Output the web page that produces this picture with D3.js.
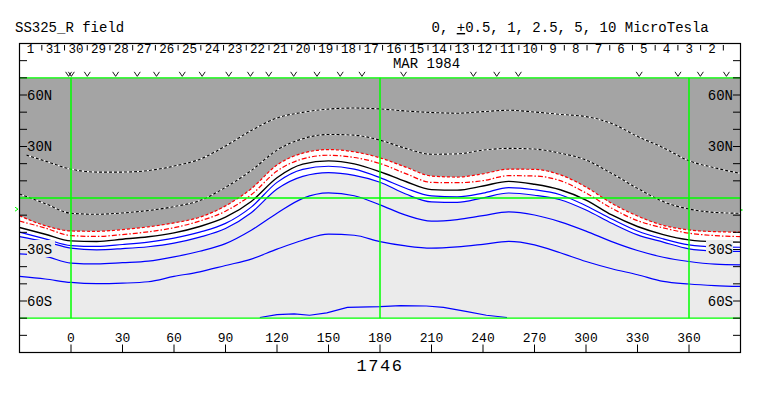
<!DOCTYPE html>
<html><head><meta charset="utf-8">
<script src="https://cdn.jsdelivr.net/npm/d3@7"></script>
<style>
body{margin:0;background:#fff}
svg{display:block}
text{font-family:"Liberation Mono","DejaVu Sans Mono",monospace;fill:#000}
</style>
</head><body>
<svg id="c" width="763" height="396"></svg>
<script>
// ---------------- data ----------------
const lonSamples = [-30,-15,0,15,30,45,60,75,90,105,120,135,150,165,180,195,210,225,240,255,270,285,300,315,330,345,360,375,390];
const neg5Lons = [-26].concat(lonSamples.slice(1));
const neg5   = [25.0,21.5,16.8,15.1,15.1,16.0,18.6,22.6,30.3,39.3,46.6,49.9,51.8,52.4,51.9,50.7,49.8,49.4,50.3,51.1,50.1,48.7,47.4,43.4,35.9,29.3,21.7,17.6,14.3];
const neg2_5 = [2.3,-3.3,-8.9,-9.5,-8.7,-7.3,-5.0,-1.5,6.2,16.0,27.9,34.5,37.0,36.6,33.7,28.9,25.5,25.7,27.9,28.9,28.5,26.1,22.1,14.3,5.6,-2.1,-6.4,-8.4,-8.9];
const neg1   = [-10.3,-16.1,-19.2,-19.4,-18.4,-16.8,-14.5,-11.2,-4.6,5.4,19.2,26.1,28.2,26.9,23.4,18.0,12.8,12.2,14.1,16.8,16.7,13.5,6.4,-3.1,-10.5,-15.9,-18.6,-19.6,-19.9];
const neg0_5 = [-13.4,-17.5,-21.9,-22.4,-21.3,-19.7,-17.3,-13.4,-7.7,1.9,15.7,22.8,24.9,23.6,20.1,14.2,9.1,8.9,10.1,13.0,12.8,10.1,2.9,-6.0,-13.2,-17.4,-20.5,-21.9,-22.5];
const zero   = [-17.2,-21.1,-25.0,-25.3,-24.0,-22.6,-20.3,-16.6,-11.2,-2.0,11.8,19.7,21.6,19.9,15.3,9.6,4.9,4.6,7.0,9.7,8.0,4.8,-1.2,-9.9,-16.6,-21.3,-24.4,-25.5,-25.7];
const pos0_5 = [-19.9,-23.8,-27.7,-28.2,-27.1,-25.7,-23.4,-19.9,-14.8,-5.3,9.1,16.7,18.5,16.8,11.9,5.7,1.2,0.7,2.8,6.1,4.8,1.9,-4.5,-12.2,-19.2,-23.8,-27.3,-28.5,-28.7];
const pos1   = [-22.5,-25.5,-29.2,-30.2,-29.5,-28.4,-26.3,-22.8,-17.8,-8.6,5.2,12.6,14.8,13.2,9.2,2.3,-2.3,-2.6,0.1,2.9,1.6,-1.0,-7.0,-14.7,-21.5,-25.7,-29.6,-30.8,-31.1];
const pos2_5 = [-32.5,-34.0,-37.9,-38.4,-37.7,-36.8,-34.3,-31.0,-26.6,-18.8,-8.9,-0.2,3.0,1.3,-4.0,-10.0,-13.5,-12.6,-10.3,-8.1,-9.9,-13.9,-19.3,-25.4,-30.6,-34.5,-37.0,-38.5,-38.9];
const pos5   = [-45.7,-47.2,-49.2,-49.9,-49.6,-48.8,-45.7,-43.0,-39.3,-35.6,-29.8,-24.6,-21.1,-21.7,-25.4,-27.9,-29.2,-28.5,-27.0,-25.3,-27.3,-31.9,-37.0,-41.2,-44.7,-48.6,-50.1,-51.0,-51.5];
const pos10Lons = [110,120,130,139,149,161,180,192,207,217,230,242,254];
const pos10     = [-69.6,-67.9,-67.5,-68.3,-66.9,-63.7,-63.3,-62.7,-62.9,-63.7,-66.0,-68.3,-69.6];

const markerLons = [-1.4,0.2,9.5,26,38.6,49.8,64.8,76.4,91.9,104.5,115.2,129.7,143.3,156.8,169.5,193.7,234.4,248,260.6,331,353.6,366.6,381.8];
const dayLabels = [1,31,30,29,28,27,26,25,24,23,22,21,20,19,18,17,16,15,14,13,12,11,10,9,8,7,6,5,4,3,2];
const lonTicks = [0,30,60,90,120,150,180,210,240,270,300,330,360];
const latTickVals = [-80,-70,-60,-50,-40,-30,-20,-10,10,20,30,40,50,60,70,80];
const latLabelVals = [60,30,-30,-60];
const greenLons = [0,180,360];
const greenLats = [-70,0,70];
const titleLeft = "SS325_R field";
const monthLabel = "MAR 1984";
const bottomLabel = "1746";

// ---------------- scales ----------------
const svg = d3.select("#c");
const x = d3.scaleLinear().domain([-30,390]).range([19.5,740.5]);
const y = d3.scaleLinear().domain([-90,90]).range([352.5,43.5]);
const DARK = "#a4a4a4", LIGHT = "#ebebeb";

svg.append("clipPath").attr("id","plot").append("rect")
  .attr("x",x(-30)).attr("y",y(70)).attr("width",x(390)-x(-30)).attr("height",y(-70)-y(70));

const g = svg.append("g").attr("clip-path","url(#plot)");
const pts = (lons,lats)=>lons.map((l,i)=>[l,lats[i]]);
const line = d3.line().x(d=>x(d[0])).y(d=>y(d[1])).curve(d3.curveMonotoneX);

// background fills
g.append("rect").attr("x",x(-30)).attr("y",y(70)).attr("width",x(390)-x(-30)).attr("height",y(-70)-y(70)).attr("fill",LIGHT);
g.append("path").datum(lonSamples.map((l,i)=>[l,neg1[i],pos1[i]]))
  .attr("fill","#fff")
  .attr("d",d3.area().x(d=>x(d[0])).y0(d=>y(d[1])).y1(d=>y(d[2])).curve(d3.curveMonotoneX));
g.append("path").datum(lonSamples.map((l,i)=>[l,neg1[i]]))
  .attr("fill",DARK)
  .attr("d",d3.area().x(d=>x(d[0])).y0(y(70)).y1(d=>y(d[1])).curve(d3.curveMonotoneX));

// contour lines
function bw(lons,lats){
  const d = line(pts(lons,lats));
  g.append("path").attr("d",d).attr("fill","none").attr("stroke","#fff").attr("stroke-width",1.1);
  g.append("path").attr("d",d).attr("fill","none").attr("stroke","#000").attr("stroke-width",1.1).attr("stroke-dasharray","3,2");
}
bw(neg5Lons,neg5);
bw(lonSamples,neg2_5);
g.append("path").attr("d",line(pts(lonSamples,neg1))).attr("fill","none").attr("stroke","#f00").attr("stroke-width",1.2).attr("stroke-dasharray","3,2");
g.append("path").attr("d",line(pts(lonSamples,neg0_5))).attr("fill","none").attr("stroke","#f00").attr("stroke-width",1.2).attr("stroke-dasharray","5,2,1.5,2");
g.append("path").attr("d",line(pts(lonSamples,zero))).attr("fill","none").attr("stroke","#000").attr("stroke-width",1.4);
[pos0_5,pos1,pos2_5,pos5].forEach(arr=>{
  g.append("path").attr("d",line(pts(lonSamples,arr))).attr("fill","none").attr("stroke","#00f").attr("stroke-width",1.2);
});
g.append("path").attr("d",d3.line().x(d=>x(d[0])).y(d=>y(d[1]))(pts(pos10Lons,pos10))).attr("fill","none").attr("stroke","#00f").attr("stroke-width",1.2);

// green reference lines
greenLons.forEach(l=>{
  svg.append("line").attr("x1",x(l)).attr("x2",x(l)).attr("y1",y(70)).attr("y2",y(-70)).attr("stroke","#00ff00").attr("stroke-width",1.5);
});
greenLats.forEach(l=>{
  svg.append("line").attr("x1",x(-30)).attr("x2",x(390)).attr("y1",y(l)).attr("y2",y(l)).attr("stroke","#00ff00").attr("stroke-width",1.4);
});

// latitude ticks (left and right, inward)
latTickVals.forEach(v=>{
  svg.append("line").attr("x1",x(-30)).attr("x2",x(-30)+7.5).attr("y1",y(v)).attr("y2",y(v)).attr("stroke","#000").attr("stroke-width",1);
  svg.append("line").attr("x1",x(390)-7.5).attr("x2",x(390)).attr("y1",y(v)).attr("y2",y(v)).attr("stroke","#000").attr("stroke-width",1);
});
const latFmt = v => Math.abs(v) + (v>0?"N":"S");
latLabelVals.forEach(v=>{
  const fill = v>0?DARK:LIGHT;
  const xl = x(-30)+7.5, xr = x(390)-7.5;
  svg.append("rect").attr("x",xl).attr("y",y(v)-9.5).attr("width",28).attr("height",17).attr("fill",fill);
  svg.append("rect").attr("x",xr-27).attr("y",y(v)-9.5).attr("width",27).attr("height",17).attr("fill",fill);
  svg.append("text").attr("x",xl).attr("y",y(v)+4.8).attr("font-size",14).text(latFmt(v));
  svg.append("text").attr("x",xr).attr("y",y(v)+4.8).attr("font-size",14).attr("text-anchor","end").text(latFmt(v));
});

// longitude axis at bottom
lonTicks.forEach(v=>{
  svg.append("line").attr("x1",x(v)).attr("x2",x(v)).attr("y1",y(-90)).attr("y2",y(-90)-8).attr("stroke","#000").attr("stroke-width",1);
  svg.append("text").attr("x",x(v)).attr("y",y(-90)-10.5).attr("font-size",13).attr("text-anchor","middle").text(v);
});

// date axis at top
const t = d3.scaleTime().domain([new Date(1984,3,1),new Date(1984,2,2)]).range([x(-17),x(380)]);
dayLabels.forEach((d,i)=>{
  const day = new Date(1984,3,1-i);
  const noon = new Date(1984,3,1-i,12);
  svg.append("line").attr("x1",t(day)).attr("x2",t(day)).attr("y1",y(90)+1.5).attr("y2",y(90)+7).attr("stroke","#000").attr("stroke-width",1);
  svg.append("text").attr("x",t(noon)).attr("y",y(90)+9.2).attr("font-size",12.5).attr("text-anchor","middle").text(d);
});
svg.append("text").attr("x",x(187.5)).attr("y",y(90)+24.5).attr("font-size",14).text(monthLabel);

// markers
markerLons.forEach(l=>{
  svg.append("path").attr("d",`M${x(l)-3},${y(70)-6} L${x(l)},${y(70)-1.5} L${x(l)+3},${y(70)-6}`)
    .attr("fill","none").attr("stroke","#000").attr("stroke-width",0.9);
});

// green marker left / right
svg.append("path").attr("d",`M${x(-30)-4.5},${y(-6.5)-2} L${x(-30)-1.5},${y(-6.5)} L${x(-30)-4.5},${y(-6.5)+2}`)
  .attr("fill","none").attr("stroke","#00ff00").attr("stroke-width",1);
svg.append("line").attr("x1",x(390)+0.5).attr("x2",x(390)+2).attr("y1",y(-7)).attr("y2",y(-7)).attr("stroke","#00ff00").attr("stroke-width",1.5);

// frame
svg.append("rect").attr("x",x(-30)).attr("y",y(90)).attr("width",x(390)-x(-30)).attr("height",y(-90)-y(90))
  .attr("fill","none").attr("stroke","#000").attr("stroke-width",1.2);

// titles
svg.append("text").attr("x",15).attr("y",32).attr("font-size",14).text(titleLeft);
const rt = svg.append("text").attr("x",431.5).attr("y",32).attr("font-size",14);
rt.append("tspan").text("0, ");
rt.append("tspan").attr("text-decoration","underline").text("+");
rt.append("tspan").text("0.5, 1, 2.5, 5, 10 MicroTesla");
svg.append("text").attr("x",x(180)).attr("y",371).attr("font-size",17).attr("letter-spacing",1.5).attr("text-anchor","middle").text(bottomLabel);
</script>
</body></html>
